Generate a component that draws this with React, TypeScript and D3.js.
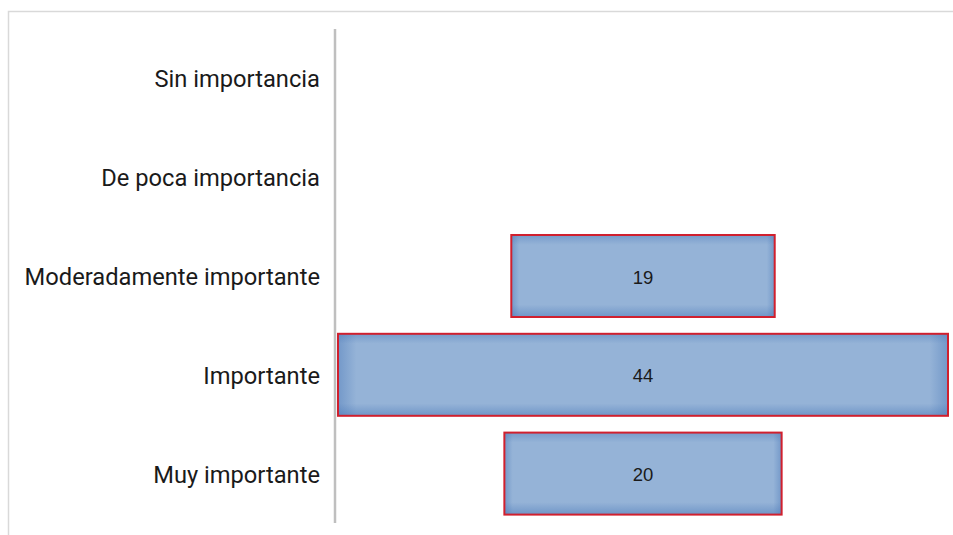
import React from "react";
import * as d3 from "d3";

const categories = [
  "Sin importancia",
  "De poca importancia",
  "Moderadamente importante",
  "Importante",
  "Muy importante",
];
const values = [0, 0, 19, 44, 20];

const W = 953;
const H = 535;

export default function App() {
  const y = d3
    .scaleBand<string>()
    .domain(categories)
    .range([29, 523])
    .paddingInner(0.17)
    .paddingOuter(0.085);
  const maxV = d3.max(values) as number;
  const w = d3.scaleLinear().domain([0, maxV]).range([0, 610]);
  const cx = 643;
  const labelFont = "Roboto, 'Liberation Sans', Arial, sans-serif";
  const valueFont = "'Liberation Sans', Arial, sans-serif";

  return (
    <div style={{ position: "fixed", left: 0, top: 0 }}>
      <svg width={W} height={H} style={{ display: "block", background: "#fff" }}>
        <defs>
          <linearGradient id="gh" x1="0" y1="0" x2="1" y2="0">
            <stop offset="0" stopColor="#4a78b8" stopOpacity="0.45" />
            <stop offset="0.03" stopColor="#4a78b8" stopOpacity="0" />
            <stop offset="0.97" stopColor="#4a78b8" stopOpacity="0" />
            <stop offset="1" stopColor="#4a78b8" stopOpacity="0.45" />
          </linearGradient>
          <linearGradient id="gv" x1="0" y1="0" x2="0" y2="1">
            <stop offset="0" stopColor="#4a78b8" stopOpacity="0.4" />
            <stop offset="0.12" stopColor="#4a78b8" stopOpacity="0" />
            <stop offset="0.85" stopColor="#4a78b8" stopOpacity="0" />
            <stop offset="1" stopColor="#4a78b8" stopOpacity="0.5" />
          </linearGradient>
        </defs>
        <path d={`M8.5,${H} V11.5 H${W}`} fill="none" stroke="#d9d9d9" strokeWidth={1.5} />
        {categories.map((c, i) => {
          const v = values[i];
          const by = y(c) as number;
          const bh = y.bandwidth();
          const bw = w(v);
          const x0 = cx - bw / 2;
          return (
            <g key={c}>
              <text
                x={320}
                y={by + bh / 2 + 1}
                textAnchor="end"
                dominantBaseline="central"
                fontFamily={labelFont}
                fontSize={23.7}
                fill="#1a1a1a"
              >
                {c}
              </text>
              {v > 0 && (
                <g>
                  <rect x={x0} y={by} width={bw} height={bh} fill="#95b3d7" />
                  <rect x={x0} y={by} width={bw} height={bh} fill="url(#gh)" />
                  <rect x={x0} y={by} width={bw} height={bh} fill="url(#gv)" />
                  <rect
                    x={x0}
                    y={by}
                    width={bw}
                    height={bh}
                    fill="none"
                    stroke="#d0202e"
                    strokeWidth={2}
                  />
                  <text
                    x={cx}
                    y={by + bh / 2 + 1}
                    textAnchor="middle"
                    dominantBaseline="central"
                    fontFamily={valueFont}
                    fontSize={18.5}
                    fill="#1a1a1a"
                  >
                    {v}
                  </text>
                </g>
              )}
            </g>
          );
        })}
        <line x1={335} x2={335} y1={29} y2={523} stroke="#bfbfbf" strokeWidth={2.5} />
      </svg>
    </div>
  );
}
